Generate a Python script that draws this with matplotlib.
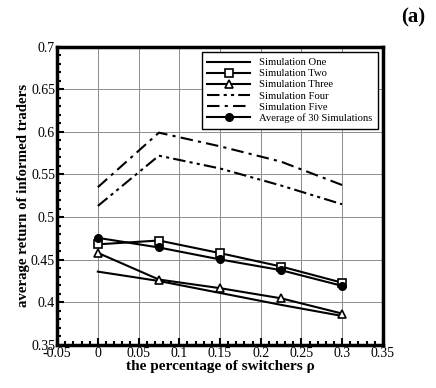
import numpy as np
import matplotlib.pyplot as plt
from matplotlib.ticker import MultipleLocator

plt.rcParams['font.family'] = ['Liberation Serif', 'DejaVu Serif']

# daten
rho = [0, 0.075, 0.15, 0.225, 0.3]
sim_one = [0.436, 0.425, 0.411, 0.397, 0.384]
sim_two = [0.468, 0.4725, 0.4577, 0.442, 0.423]
sim_three = [0.458, 0.4267, 0.4166, 0.4047, 0.3868]
sim_four = [0.513, 0.572, 0.557, 0.537, 0.515]
sim_five = [0.535, 0.599, 0.583, 0.565, 0.5376]
sim_avg = [0.4756, 0.4643, 0.4503, 0.4377, 0.4193]

fig = plt.figure(figsize=(4.36, 3.88), dpi=100)
ax = fig.add_axes([0.131, 0.111, 0.747, 0.769])

lw = 1.5
ax.plot(rho, sim_one, '-', color='black', lw=lw, label='Simulation One')
ax.plot(rho, sim_two, '-', color='black', lw=lw, marker='s', ms=5.5,
        mfc='white', mec='black', mew=1.2, label='Simulation Two')
ax.plot(rho, sim_three, '-', color='black', lw=lw, marker='^', ms=6,
        mfc='white', mec='black', mew=1.2, label='Simulation Three')
ax.plot(rho, sim_four, color='black', lw=lw, dashes=[6, 2, 1.5, 2, 1.5, 2],
        label='Simulation Four')
ax.plot(rho, sim_five, color='black', lw=lw, dashes=[6, 2.5, 1.5, 2.5],
        label='Simulation Five')
ax.plot(rho, sim_avg, '-', color='black', lw=lw, marker='o', ms=5.5,
        mfc='black', mec='black', label='Average of 30 Simulations')

ax.set_xlim(-0.05, 0.35)
ax.set_ylim(0.35, 0.7)
ax.xaxis.set_major_locator(MultipleLocator(0.05))
ax.yaxis.set_major_locator(MultipleLocator(0.05))
ax.xaxis.set_minor_locator(MultipleLocator(0.01))
ax.yaxis.set_minor_locator(MultipleLocator(0.01))
ax.xaxis.set_major_formatter(plt.FuncFormatter(lambda v, p: f"{v:g}"))
ax.yaxis.set_major_formatter(plt.FuncFormatter(lambda v, p: f"{v:g}"))
ax.tick_params(which='both', direction='in', width=1.5, labelsize=10, pad=1.5)
ax.tick_params(which='major', length=5)
ax.tick_params(which='minor', length=3)
ax.grid(True, which='major', color='#8c8c8c', lw=0.7)
for s in ax.spines.values():
    s.set_linewidth(2.5)

ax.set_xlabel('the percentage of switchers ρ', fontsize=11, fontweight='bold', labelpad=0)
ax.set_ylabel('average return of informed traders', fontsize=10.7, fontweight='bold', labelpad=1)

leg = ax.legend(loc='upper right', bbox_to_anchor=(0.985, 0.982), borderaxespad=0,
                fontsize=7.7, frameon=True, fancybox=False, framealpha=1,
                edgecolor='black', handlelength=4.0, handletextpad=0.8,
                borderpad=0.55, labelspacing=0.15)
leg.get_frame().set_linewidth(1.0)

fig.text(0.947, 0.955, '(a)', fontsize=15, fontweight='bold', ha='center', va='center')

fig.savefig('out.png', dpi=100)
